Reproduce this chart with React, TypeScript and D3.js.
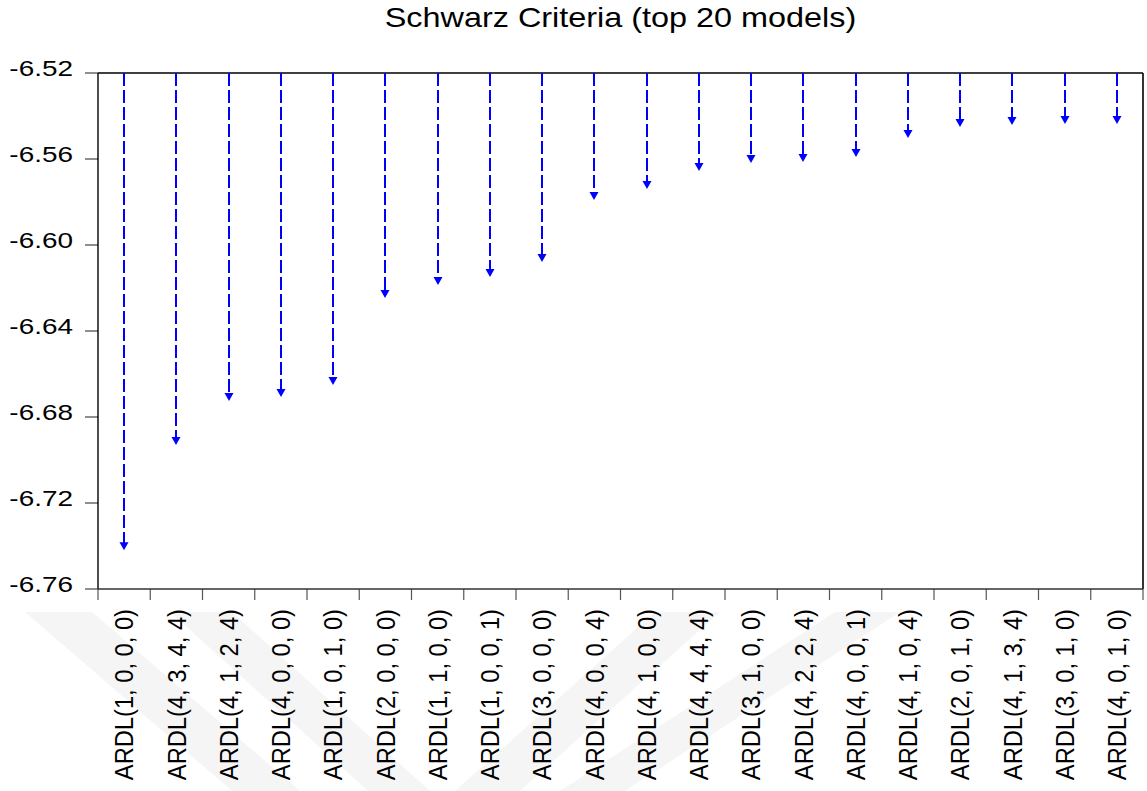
import React from 'react';
import * as d3 from 'd3';

// Top 20 ARDL models ranked by Schwarz criterion
const models = [
  'ARDL(1, 0, 0, 0)', 'ARDL(4, 3, 4, 4)', 'ARDL(4, 1, 2, 4)', 'ARDL(4, 0, 0, 0)',
  'ARDL(1, 0, 1, 0)', 'ARDL(2, 0, 0, 0)', 'ARDL(1, 1, 0, 0)', 'ARDL(1, 0, 0, 1)',
  'ARDL(3, 0, 0, 0)', 'ARDL(4, 0, 0, 4)', 'ARDL(4, 1, 0, 0)', 'ARDL(4, 4, 4, 4)',
  'ARDL(3, 1, 0, 0)', 'ARDL(4, 2, 2, 4)', 'ARDL(4, 0, 0, 1)', 'ARDL(4, 1, 0, 4)',
  'ARDL(2, 0, 1, 0)', 'ARDL(4, 1, 3, 4)', 'ARDL(3, 0, 1, 0)', 'ARDL(4, 0, 1, 0)',
];

const schwarz = [
  -6.742, -6.693, -6.6726, -6.6707, -6.6651, -6.6247, -6.6186, -6.6149,
  -6.6079, -6.5791, -6.574, -6.5656, -6.5619, -6.5614, -6.5591, -6.5502,
  -6.5451, -6.5442, -6.5437, -6.5437,
];

const yTicks = [-6.52, -6.56, -6.6, -6.64, -6.68, -6.72, -6.76];

const title = 'Schwarz Criteria (top 20 models)';

const W = 1147;
const H = 791;
const margin = { top: 73, right: 4, bottom: 202, left: 98 };
const font = '"Liberation Sans", Arial, sans-serif';
const blue = '#0000ff';

export default function App() {
  const x = d3
    .scaleBand<string>()
    .domain(models)
    .range([margin.left, W - margin.right])
    .padding(0);

  const y = d3
    .scaleLinear()
    .domain([-6.76, -6.52])
    .range([H - margin.bottom, margin.top]);

  const top = y(-6.52);
  const bottom = y(-6.76);
  const left = margin.left;
  const right = W - margin.right;
  const bw = x.bandwidth();
  const boundaries = d3.range(models.length + 1).map((i) => left + i * bw);
  const center = (m: string) => Math.round((x(m) as number) + bw / 2);

  return (
    <div style={{ position: 'absolute', left: 0, top: 0 }}>
      <svg width={W} height={H} style={{ display: 'block', background: '#fff' }}>
        {/* faint watermark behind the category labels */}
        <g fill="#f5f5f5">
          <polygon points="25,612 92,612 300,791 232,791" />
          <polygon points="170,612 232,612 430,791 368,791" />
          <polygon points="455,791 520,791 720,612 655,612" />
          <polygon points="560,791 625,791 900,612 835,612" />
        </g>

        <text
          transform={`translate(${(left + right) / 2},27) scale(1.2,1)`}
          textAnchor="middle"
          fontFamily={font}
          fontSize={27}
          fill="#000"
        >
          {title}
        </text>

        {/* y axis ticks and labels */}
        {yTicks.map((t) => (
          <g key={t}>
            <line x1={left - 13} x2={left} y1={y(t)} y2={y(t)} stroke="#444" strokeWidth={1.2} />
            <text
              transform={`translate(73,${y(t) + 2.6}) scale(1.27,1)`}
              textAnchor="end"
              fontFamily={font}
              fontSize={22}
              fill="#000"
            >
              {t.toFixed(2)}
            </text>
          </g>
        ))}

        {/* x axis ticks at category boundaries */}
        {boundaries.map((bx, i) => (
          <line key={i} x1={bx} x2={bx} y1={bottom} y2={bottom + 11} stroke="#555" strokeWidth={1.2} />
        ))}

        {/* frame */}
        <line x1={left} x2={right} y1={top} y2={top} stroke="#000" strokeWidth={1.6} />
        <line x1={right} x2={right} y1={top} y2={bottom} stroke="#000" strokeWidth={1.6} />
        <line x1={left} x2={left} y1={top} y2={bottom} stroke="#000" strokeWidth={1.4} />
        <line x1={left} x2={right} y1={bottom} y2={bottom} stroke="#333" strokeWidth={1.4} />

        {/* dashed arrows from the top edge down to each criterion value */}
        {models.map((m, i) => {
          const cx = center(m);
          const tip = y(schwarz[i]);
          return (
            <g key={m}>
              <line
                x1={cx}
                x2={cx}
                y1={top}
                y2={tip - 7}
                stroke={blue}
                strokeWidth={2}
                strokeDasharray="13,4"
              />
              <path d={`M${cx - 4.5},${tip - 8}L${cx + 4.5},${tip - 8}L${cx},${tip}Z`} fill={blue} />
            </g>
          );
        })}

        {/* rotated category labels */}
        {models.map((m) => (
          <text
            key={m}
            transform={`translate(${(x(m) as number) + bw / 2},609) rotate(-90) scale(1,1.07)`}
            dy="0.36em"
            textAnchor="end"
            fontFamily={font}
            fontSize={23.7}
            fill="#000"
          >
            {m}
          </text>
        ))}
      </svg>
    </div>
  );
}
